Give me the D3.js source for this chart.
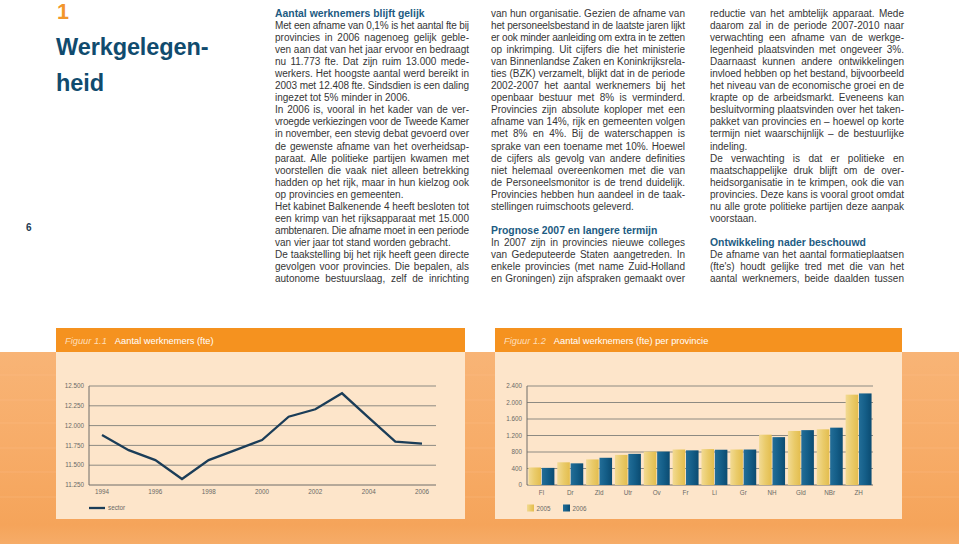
<!DOCTYPE html>
<html><head><meta charset="utf-8">
<script src="https://cdn.jsdelivr.net/npm/d3@7"></script>
<style>
body{margin:0;background:#fff;width:959px;height:547px;overflow:hidden;position:relative;font-family:"Liberation Sans",Arial,Helvetica,sans-serif;}
#chart{position:absolute;left:0;top:0;}
.col{position:absolute;top:8px;width:194px;}
.ln{height:12.05px;line-height:12.05px;font-size:10px;white-space:nowrap;color:#363636;}
.ln.h{font-weight:bold;color:#1d5b82;font-size:10.4px;}
.ttl{position:absolute;font-weight:bold;white-space:nowrap;}
</style></head><body>
<svg id="chart" width="959" height="547"></svg>
<script>
// ---------- data ----------
const years = [1994,1995,1996,1997,1998,1999,2000,2001,2002,2003,2004,2005,2006];
const fteSector = [11880,11690,11565,11325,11565,11690,11818,12112,12206,12408,12100,11797,11773];
const lineYTicks = [11250,11500,11750,12000,12250,12500];
const lineXTicks = [1994,1996,1998,2000,2002,2004,2006];

const provinces = ["Fl","Dr","Zld","Utr","Ov","Fr","Li","Gr","NH","Gld","NBr","ZH"];
const fte2005 = [425,550,620,730,810,860,870,860,1220,1310,1350,2190];
const fte2006 = [415,525,660,755,810,840,855,860,1160,1330,1390,2220];
const barYTicks = [0,400,800,1200,1600,2000,2400];
const seriesNames = ["2005","2006"];

const fig1Label = "Figuur 1.1", fig1Title = "Aantal werknemers (fte)";
const fig2Label = "Figuur 1.2", fig2Title = "Aantal werknemers (fte) per provincie";
const lineLegend = "sector";

// text columns: [type, text]  J = justified, L = left, H = heading, B = blank
const col1 = [
 ["H","Aantal werknemers blijft gelijk"],
 ["J","Met een afname van 0,1% is het aantal fte bij"],
 ["J","provincies in 2006 nagenoeg gelijk geble-"],
 ["J","ven aan dat van het jaar ervoor en bedraagt"],
 ["J","nu 11.773 fte. Dat zijn ruim 13.000 mede-"],
 ["J","werkers. Het hoogste aantal werd bereikt in"],
 ["J","2003 met 12.408 fte. Sindsdien is een daling"],
 ["L","ingezet tot 5% minder in 2006."],
 ["J","In 2006 is, vooral in het kader van de ver-"],
 ["J","vroegde verkiezingen voor de Tweede Kamer"],
 ["J","in november, een stevig debat gevoerd over"],
 ["J","de gewenste afname van het overheidsap-"],
 ["J","paraat. Alle politieke partijen kwamen met"],
 ["J","voorstellen die vaak niet alleen betrekking"],
 ["J","hadden op het rijk, maar in hun kielzog ook"],
 ["L","op provincies en gemeenten."],
 ["J","Het kabinet Balkenende 4 heeft besloten tot"],
 ["J","een krimp van het rijksapparaat met 15.000"],
 ["J","ambtenaren. Die afname moet in een periode"],
 ["L","van vier jaar tot stand worden gebracht."],
 ["J","De taakstelling bij het rijk heeft geen directe"],
 ["J","gevolgen voor provincies. Die bepalen, als"],
 ["J","autonome bestuurslaag, zelf de inrichting"]
];
const col2 = [
 ["J","van hun organisatie. Gezien de afname van"],
 ["J","het personeelsbestand in de laatste jaren lijkt"],
 ["J","er ook minder aanleiding om extra in te zetten"],
 ["J","op inkrimping. Uit cijfers die het ministerie"],
 ["J","van Binnenlandse Zaken en Koninkrijksrela-"],
 ["J","ties (BZK) verzamelt, blijkt dat in de periode"],
 ["J","2002-2007 het aantal werknemers bij het"],
 ["J","openbaar bestuur met 8% is verminderd."],
 ["J","Provincies zijn absolute koploper met een"],
 ["J","afname van 14%, rijk en gemeenten volgen"],
 ["J","met 8% en 4%. Bij de waterschappen is"],
 ["J","sprake van een toename met 10%. Hoewel"],
 ["J","de cijfers als gevolg van andere definities"],
 ["J","niet helemaal overeenkomen met die van"],
 ["J","de Personeelsmonitor is de trend duidelijk."],
 ["J","Provincies hebben hun aandeel in de taak-"],
 ["L","stellingen ruimschoots geleverd."],
 ["B",""],
 ["H","Prognose 2007 en langere termijn"],
 ["J","In 2007 zijn in provincies nieuwe colleges"],
 ["J","van Gedeputeerde Staten aangetreden. In"],
 ["J","enkele provincies (met name Zuid-Holland"],
 ["J","en Groningen) zijn afspraken gemaakt over"]
];
const col3 = [
 ["J","reductie van het ambtelijk apparaat. Mede"],
 ["J","daarom zal in de periode 2007-2010 naar"],
 ["J","verwachting een afname van de werkge-"],
 ["J","legenheid plaatsvinden met ongeveer 3%."],
 ["J","Daarnaast kunnen andere ontwikkelingen"],
 ["J","invloed hebben op het bestand, bijvoorbeeld"],
 ["J","het niveau van de economische groei en de"],
 ["J","krapte op de arbeidsmarkt. Eveneens kan"],
 ["J","besluitvorming plaatsvinden over het taken-"],
 ["J","pakket van provincies en – hoewel op korte"],
 ["J","termijn niet waarschijnlijk – de bestuurlijke"],
 ["L","indeling."],
 ["J","De verwachting is dat er politieke en"],
 ["J","maatschappelijke druk blijft om de over-"],
 ["J","heidsorganisatie in te krimpen, ook die van"],
 ["J","provincies. Deze kans is vooral groot omdat"],
 ["J","nu alle grote politieke partijen deze aanpak"],
 ["L","voorstaan."],
 ["B",""],
 ["H","Ontwikkeling nader beschouwd"],
 ["J","De afname van het aantal formatieplaatsen"],
 ["J","(fte's) houdt gelijke tred met die van het"],
 ["J","aantal werknemers, beide daalden tussen"]
];

// ---------- formatting ----------
const nl = d3.formatLocale({decimal:",",thousands:".",grouping:[3],currency:["€",""]});
const fmt = nl.format(",.0f");

const svg = d3.select("#chart");
const defs = svg.append("defs");
function lg(id, stops, vertical){
  const g = defs.append("linearGradient").attr("id",id)
    .attr("x1",0).attr("y1",0).attr("x2",vertical?0:1).attr("y2",vertical?1:0);
  stops.forEach(s=>g.append("stop").attr("offset",s[0]).attr("stop-color",s[1]));
}
lg("g2005",[[0,"#F2DA93"],[0.5,"#EACB6A"],[1,"#E3BD4E"]]);
lg("g2006",[[0,"#236E98"],[0.5,"#145E88"],[1,"#0B4B71"]]);
lg("band",[[0,"#F8B476"],[0.5,"#F7AC68"],[0.9,"#F5A45A"],[1,"#F6AC68"]],true);

// background band
svg.append("rect").attr("x",0).attr("y",352).attr("width",959).attr("height",192).attr("fill","url(#band)");
svg.append("g").selectAll("line").data([375,400,423,448,472,497]).join("line")
  .attr("x1",0).attr("x2",959).attr("y1",d=>d).attr("y2",d=>d)
  .attr("stroke","#FBC594").attr("stroke-opacity",0.3).attr("stroke-width",1);

// panels
function panel(x, w, label, title){
  svg.append("rect").attr("x",x).attr("y",328).attr("width",w).attr("height",24).attr("fill","#F5921F");
  svg.append("rect").attr("x",x).attr("y",352).attr("width",w).attr("height",167).attr("fill","#FDE5CA");
  const t = svg.append("text").attr("x",x+9).attr("y",344).attr("font-size",9.3);
  t.append("tspan").attr("font-style","italic").attr("fill","#FDDDB8").text(label);
  t.append("tspan").attr("dx",8).attr("fill","#fff").text(title);
}
panel(56,409,fig1Label,fig1Title);
panel(495,407,fig2Label,fig2Title);

const tickFont = 6.3, tickCol = "#6a6a66", gridCol = "#8d8a82";

// ---------- line chart ----------
const lx = d3.scaleLinear().domain([1994,2006]).range([102,422]);
const ly = d3.scaleLinear().domain([11250,12500]).range([485,386]);
const lg1 = svg.append("g");
lg1.selectAll("line.grid").data(lineYTicks).join("line").attr("class","grid")
  .attr("x1",89).attr("x2",436).attr("y1",d=>ly(d)).attr("y2",d=>ly(d))
  .attr("stroke",(d,i)=>i===0?"#6f6d68":gridCol).attr("stroke-width",1);
lg1.append("line").attr("x1",89).attr("x2",89).attr("y1",ly(12500)).attr("y2",ly(11250)).attr("stroke","#6f6d68");
lg1.selectAll("text.yt").data(lineYTicks).join("text").attr("class","yt")
  .attr("x",84).attr("y",d=>ly(d)+2.2).attr("text-anchor","end")
  .attr("font-size",tickFont).attr("fill",tickCol).text(d=>fmt(d));
lg1.selectAll("text.xt").data(lineXTicks).join("text").attr("class","xt")
  .attr("x",d=>lx(d)).attr("y",494).attr("text-anchor","middle")
  .attr("font-size",tickFont).attr("fill",tickCol).text(d=>d);
lg1.append("path").datum(years.map((y,i)=>[y,fteSector[i]]))
  .attr("d",d3.line().x(d=>lx(d[0])).y(d=>ly(d[1])))
  .attr("fill","none").attr("stroke","#1b3d58").attr("stroke-width",2.3).attr("stroke-linejoin","miter");
lg1.append("line").attr("x1",89).attr("x2",105).attr("y1",508).attr("y2",508).attr("stroke","#1b3d58").attr("stroke-width",2.3);
lg1.append("text").attr("x",108).attr("y",510.3).attr("font-size",tickFont).attr("fill",tickCol).text(lineLegend);

// ---------- bar chart ----------
const bx0 = d3.scaleBand().domain(provinces).range([527,873]).paddingInner(0.1).paddingOuter(0.05);
const bx1 = d3.scaleBand().domain(seriesNames).range([0,bx0.bandwidth()]).paddingInner(0.06);
const by = d3.scaleLinear().domain([0,2400]).range([485,386]);
const bg = svg.append("g");
bg.selectAll("line.grid").data(barYTicks).join("line").attr("class","grid")
  .attr("x1",527).attr("x2",873).attr("y1",d=>by(d)).attr("y2",d=>by(d))
  .attr("stroke",(d,i)=>i===0?"#6f6d68":gridCol).attr("stroke-width",1);
bg.append("line").attr("x1",527).attr("x2",527).attr("y1",by(2400)).attr("y2",by(0)).attr("stroke","#6f6d68");
bg.selectAll("text.yt").data(barYTicks).join("text").attr("class","yt")
  .attr("x",522).attr("y",d=>by(d)+2.2).attr("text-anchor","end")
  .attr("font-size",tickFont).attr("fill",tickCol).text(d=>fmt(d));
const seriesVals = {"2005":fte2005,"2006":fte2006};
const groups = bg.selectAll("g.prov").data(provinces).join("g").attr("class","prov")
  .attr("transform",d=>`translate(${bx0(d)},0)`);
groups.selectAll("rect").data((p,i)=>seriesNames.map(s=>({s,v:seriesVals[s][i]}))).join("rect")
  .attr("x",d=>bx1(d.s)).attr("width",bx1.bandwidth())
  .attr("y",d=>by(d.v)).attr("height",d=>by(0)-by(d.v))
  .attr("fill",d=>`url(#g${d.s})`);
bg.selectAll("text.xt").data(provinces).join("text").attr("class","xt")
  .attr("x",d=>bx0(d)+bx0.bandwidth()/2).attr("y",494.5).attr("text-anchor","middle")
  .attr("font-size",tickFont).attr("fill",tickCol).text(d=>d);
const legX = [527,563];
seriesNames.forEach((s,i)=>{
  bg.append("rect").attr("x",legX[i]).attr("y",504.5).attr("width",7).attr("height",7).attr("fill",`url(#g${s})`);
  bg.append("text").attr("x",legX[i]+9.5).attr("y",510.5).attr("font-size",tickFont).attr("fill",tickCol).text(s);
});

// ---------- titles ----------
const body = d3.select("body");
body.append("div").attr("class","ttl").style("left","57px").style("top","0px")
  .style("font-size","21.5px").style("color","#F2962B").style("line-height","24px").text("1");
body.append("div").attr("class","ttl").style("left","56px").style("top","33px")
  .style("font-size","23.5px").style("letter-spacing","-0.1px").style("color","#104B6E").style("line-height","28px").text("Werkgelegen-");
body.append("div").attr("class","ttl").style("left","56px").style("top","69px")
  .style("font-size","23.5px").style("letter-spacing","-0.1px").style("color","#104B6E").style("line-height","28px").text("heid");
body.append("div").attr("class","ttl").style("left","26px").style("top","222px")
  .style("font-size","10px").style("color","#1d3a52").text("6");

// ---------- text columns ----------
const W = 194;
function column(lines, left){
  const c = body.append("div").attr("class","col").style("left",left+"px");
  lines.forEach(([t,txt])=>{
    const d = c.append("div").attr("class","ln"+(t==="H"?" h":""));
    const sp = d.append("span").text(txt||"\u00a0");
    if(t==="J"){
      const w = sp.node().getBoundingClientRect().width;
      const extra = W - w;
      const spaces = (txt.match(/ /g)||[]).length;
      if(extra>=0 && spaces>0){ sp.style("word-spacing",(extra/spaces)+"px"); }
      else { sp.style("letter-spacing",(extra/(txt.length-1))+"px"); }
    }
  });
}
column(col1,275);
column(col2,491);
column(col3,710);
</script>
</body></html>
